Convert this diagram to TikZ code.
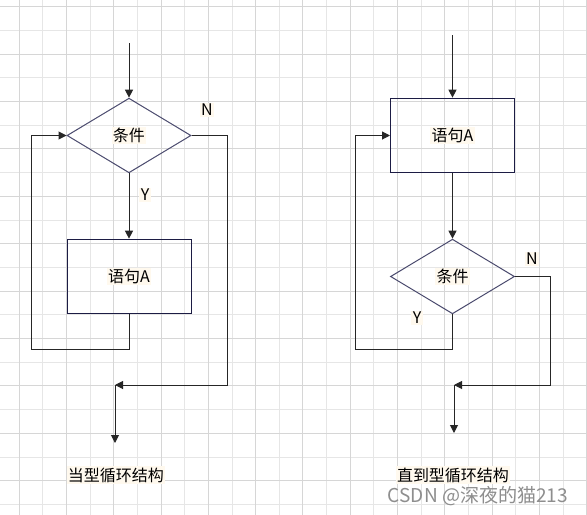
\documentclass[tikz,border=0pt]{standalone}
\usepackage{fontspec}
\setmainfont{Noto Sans CJK SC}
\usetikzlibrary{shapes.geometric,arrows.meta}
\definecolor{gridmajor}{HTML}{D6D6D6}
\definecolor{gridminor}{HTML}{E6E6E6}
\definecolor{diaedge}{HTML}{4A4A6E}
\definecolor{boxedge}{HTML}{1C1C44}
\definecolor{labelbg}{HTML}{FFF9EE}
\definecolor{wmgray}{HTML}{8E8E8E}

\begin{document}
\begin{tikzpicture}[x=0.75pt, y=-0.75pt,
  every node/.style={font=\fontsize{12pt}{14pt}\selectfont},
  decision/.style={diamond, draw=diaedge, line width=0.75pt, inner sep=0pt,
    minimum width=93pt, minimum height=56pt},
  stmtbox/.style={rectangle, draw=boxedge, line width=0.75pt,
    minimum width=93pt, minimum height=56pt},
  lbl/.style={fill=labelbg, inner sep=1pt},
  arr/.style={draw=black!85, line width=0.75pt, -{Triangle[length=6pt, width=6pt]}}]

  % paper grid
  \useasboundingbox (0,0) rectangle (587,515);
  \fill[white] (0,0) rectangle (587,515);
  \foreach \i in {1,3,...,23} \draw[gridminor, line width=0.75pt] ({19.3+23.64*\i},0) -- ({19.3+23.64*\i},515);
  \foreach \j in {1,3,...,21} \draw[gridminor, line width=0.75pt] (0,{6.7+23.7*\j}) -- (587,{6.7+23.7*\j});
  \foreach \i in {0,2,...,24} \draw[gridmajor, line width=0.75pt] ({19.3+23.64*\i},0) -- ({19.3+23.64*\i},515);
  \foreach \j in {0,2,...,20} \draw[gridmajor, line width=0.75pt] (0,{6.7+23.7*\j}) -- (587,{6.7+23.7*\j});

  % while loop
  \node[decision, label={[lbl]center:条件}] (cond1) at (129,135.5) {};
  \node[stmtbox, label={[lbl]center:语句A}] (stmt1) at (129,276.5) {};
  \coordinate (start1) at (129,43);
  \coordinate (loop1) at (31,349);
  \coordinate (exit1) at (227,385);
  \coordinate (join1) at (115,385);
  \coordinate (end1) at (115,443);
  \draw[arr] (start1) -- (cond1.north);
  \draw[arr] (cond1.south) -- (stmt1.north);
  \draw[arr] (stmt1.south) |- (loop1) |- (cond1.west);
  \draw[arr] (cond1.east) -| (exit1) -- (join1);
  \draw[arr] (join1) -- (end1);
  \node[lbl] (n1) at (207,110) {N};
  \node[lbl] (y1) at (145,195) {Y};
  \node[lbl] (title1) at (116,475) {当型循环结构};

  % until loop
  \node[stmtbox, label={[lbl]center:语句A}] (stmt2) at (452.5,135.5) {};
  \node[decision, label={[lbl]center:条件}] (cond2) at (452.5,276.5) {};
  \coordinate (start2) at (452.5,35);
  \coordinate (loop2) at (355,349);
  \coordinate (exit2) at (550,385);
  \coordinate (join2) at (454,385);
  \coordinate (end2) at (454,433);
  \draw[arr] (start2) -- (stmt2.north);
  \draw[arr] (stmt2.south) -- (cond2.north);
  \draw[arr] (cond2.south) |- (loop2) |- (stmt2.west);
  \draw[arr] (cond2.east) -| (exit2) -- (join2);
  \draw[arr] (join2) -- (end2);
  \node[lbl] (n2) at (532,259) {N};
  \node[lbl] (y2) at (417,318) {Y};
  \node[lbl] (title2) at (453,475) {直到型循环结构};

  \node[text=wmgray, font=\fontsize{14.3pt}{16pt}\selectfont] (mark) at (478,496) {CSDN @深夜的猫213};
\end{tikzpicture}
\end{document}
